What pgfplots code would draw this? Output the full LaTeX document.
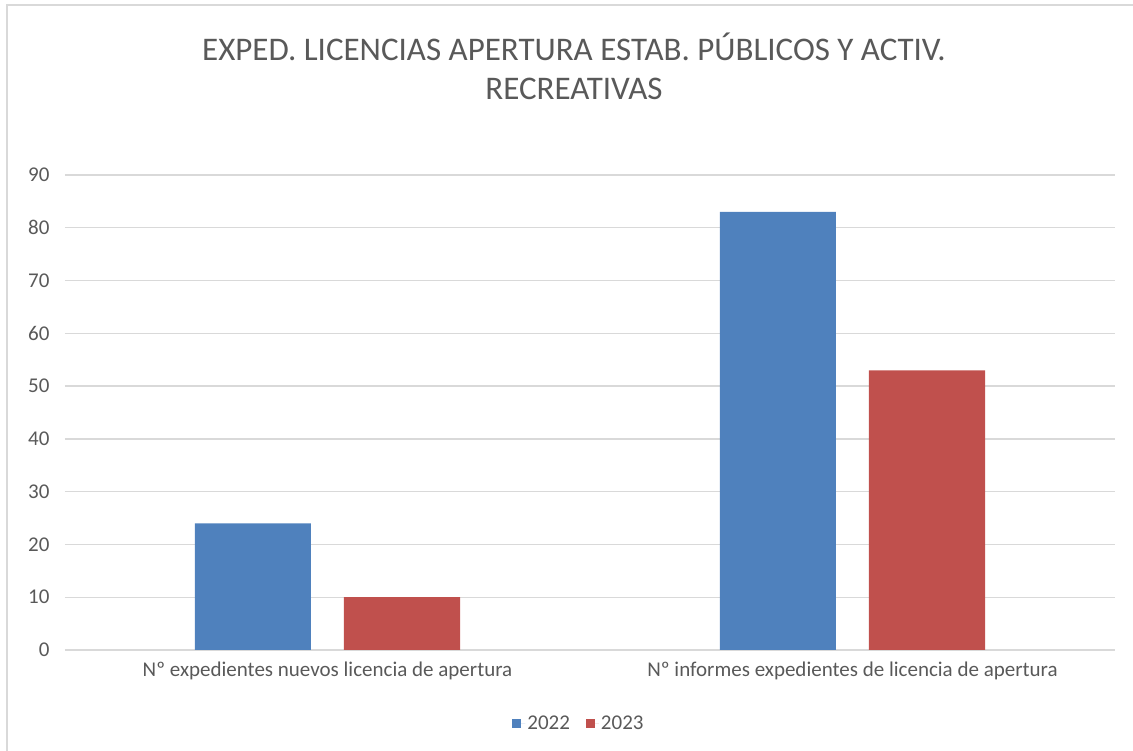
\documentclass[border=0pt]{standalone}
\usepackage{fontspec}
\setmainfont{Carlito}
\usepackage{pgfplots}
\pgfplotsset{compat=1.18}
\definecolor{b22}{HTML}{4F81BD}
\definecolor{r23}{HTML}{C0504D}
\definecolor{txt}{HTML}{595959}
\definecolor{grd}{HTML}{D9D9D9}
\begin{document}
\begin{tikzpicture}[x=1pt,y=1pt]
\path[use as bounding box] (0,0) rectangle (1133,751);
\draw[grd, line width=1.5pt] (7,-20) rectangle (1150,746);
\node[txt, font=\fontsize{33}{39}\selectfont, align=center] at (574,684.5) {EXPED. LICENCIAS APERTURA ESTAB. PÚBLICOS Y ACTIV.\\RECREATIVAS};
\begin{axis}[at={(65pt,101pt)}, anchor=south west, width=1050pt, height=475pt, scale only axis,
  xmin=-0.5, xmax=1.5, ymin=0, ymax=90, ytick={0,10,...,90},
  xtick={0,1},
  xticklabels={Nº expedientes nuevos licencia de apertura, Nº informes expedientes de licencia de apertura},
  axis line style={draw=none}, major tick length=0pt,
  ymajorgrids, grid style={grd, line width=1.3pt},
  /pgf/number format/assume math mode=true,
  ticklabel style={txt, font=\fontsize{21}{25}\selectfont},
  yticklabel style={xshift=-12pt},
  xticklabel style={yshift=-8pt},
  ybar, bar width=116pt,
  legend style={at={(0.4895,-0.1537)}, anchor=center, draw=none, fill=none, font=\fontsize{21}{25}\selectfont, text=txt, legend columns=2},
  /tikz/every even column/.append style={column sep=14pt},
  legend image code/.code={\path (0pt,0pt) -- (13pt,0pt); \fill[#1] (0pt,-4.5pt) rectangle (9pt,4.5pt);},
]
\addplot[fill=b22, draw=none, bar shift=-74.5pt] coordinates {(0,24) (1,83)};
\addplot[fill=r23, draw=none, bar shift=74.5pt] coordinates {(0,10) (1,53)};
\legend{2022,2023}
\end{axis}
\end{tikzpicture}
\end{document}
